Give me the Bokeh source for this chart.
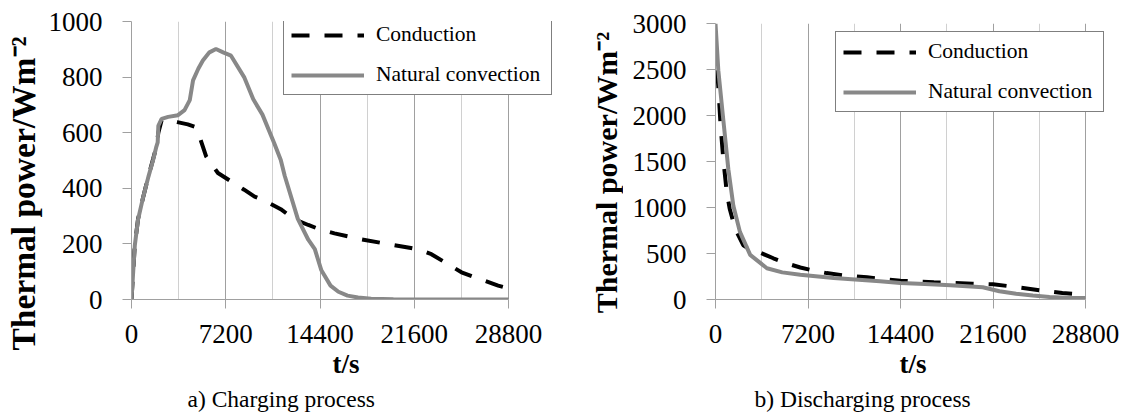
import math
from bokeh.plotting import figure
from bokeh.models import FixedTicker, Legend, LegendItem, Range1d, Title
from bokeh.core.properties import value
from bokeh.layouts import row
from bokeh.embed import file_html
from bokeh.resources import INLINE

FONT = "Liberation Serif"

# ---------------- data ----------------
x_ticks = [0, 7200, 14400, 21600, 28800]
x_minor = [3600, 10800, 18000, 25200]
x_tick_labels = ["0", "7200", "14400", "21600", "28800"]

charge_y_ticks = [0, 200, 400, 600, 800, 1000]
charge_y_labels = ["0", "200", "400", "600", "800", "1000"]
discharge_y_ticks = [0, 500, 1000, 1500, 2000, 2500, 3000]
discharge_y_labels = ["0", "500", "1000", "1500", "2000", "2500", "3000"]

series_names = ["Conduction", "Natural convection"]
captions = ["a) Charging process", "b) Discharging process"]
x_title = "t/s"
y_title = "Thermal power/Wm\u207b\u00b2"

# a) charging - conduction
charge_cond_t = [0, 250, 500, 900, 1300, 1650, 1900, 2050, 2300, 2800, 3500, 4300, 4800,
                 5200, 5700, 6600, 7600, 8600, 9400, 10200, 11400, 12450, 13500, 14400,
                 15500, 17500, 19500, 21000, 21900, 22900, 24000, 25200, 26500, 28000, 28800]
charge_cond_p = [0, 195, 290, 370, 445, 505, 550, 600, 645, 645, 638, 630, 622,
                 585, 515, 455, 425, 395, 370, 355, 325, 288, 268, 252,
                 238, 217, 200, 188, 180, 163, 132, 98, 75, 50, 40]

# a) charging - natural convection
charge_nat_t = [0, 250, 500, 900, 1300, 1650, 1900, 2000, 2050, 2300, 2800, 3550, 4050,
                4450, 4700, 5100, 5450, 5950, 6450, 7000, 7600, 8600, 9300, 10000, 10900,
                11400, 11700, 12700, 13500, 14000, 14500, 15200, 15800, 16500, 17300, 18300,
                20000, 24000, 28800]
charge_nat_p = [0, 193, 288, 370, 443, 502, 550, 565, 625, 650, 657, 663, 681,
                717, 788, 830, 860, 889, 901, 889, 877, 800, 720, 665, 562,
                502, 445, 290, 215, 181, 105, 50, 28, 14, 7, 3,
                1, 0, 0]

# b) discharging - conduction
dis_cond_t = [0, 90, 220, 400, 610, 870, 1100, 1390, 1700, 2160, 2700, 3460, 4500, 5500,
              6600, 7600, 8650, 10000, 11800, 14400, 17000, 20000, 21600, 22900, 24500,
              25800, 27000, 28800]
dis_cond_p = [2850, 2560, 2310, 1880, 1520, 1170, 990, 840, 720, 590, 545, 510, 448, 395,
              348, 315, 287, 262, 241, 204, 187, 172, 165, 144, 115,
              90, 70, 50]

# b) discharging - natural convection
dis_nat_t = [0, 220, 610, 1000, 1390, 1900, 2700, 4000, 5200, 6600, 9200, 12800, 14400,
             16300, 18300, 20800, 22100, 23400, 24700, 26000, 27300, 28800]
dis_nat_p = [3000, 2490, 1950, 1415, 1020, 735, 485, 340, 295, 268, 233, 198, 180,
             168, 155, 133, 90, 62, 43, 28, 18, 15]

AXIS_GRAY = "#a0a0a0"
MINOR_GRAY = "#d0d0d0"
LINE_GRAY = "#888888"
H = 414


def title_strip(width, cx, cy, size):
    """Narrow figure holding only the rotated y-axis title."""
    t = figure(width=width, height=H, x_range=Range1d(0, width), y_range=Range1d(0, H),
               output_backend="svg", toolbar_location=None, frame_align=False,
               min_border_left=0, min_border_right=0, min_border_top=0, min_border_bottom=0)
    t.axis.visible = False
    t.grid.visible = False
    t.outline_line_color = None
    t.background_fill_color = "white"
    t.border_fill_color = "white"
    t.text(x=[cx], y=[H - cy], text=[y_title], angle=math.pi / 2,
           text_font=value(FONT), text_font_size=value(size), text_font_style="bold",
           text_color="black", text_align="center", text_baseline="middle")
    return t


def make_panel(width, frame_left, frame_right_border, top, bottom, x_end, y_end,
               y_ticks, y_labels, cond_t, cond_p, nat_t, nat_p, caption, cap_offset,
               legend_loc):
    p = figure(width=width, height=H, x_range=Range1d(0, x_end), y_range=Range1d(0, y_end),
               output_backend="svg", toolbar_location=None, frame_align=False,
               min_border_left=frame_left, min_border_right=frame_right_border,
               min_border_top=top, min_border_bottom=bottom)
    p.outline_line_color = None
    p.background_fill_color = "white"
    p.border_fill_color = "white"

    xt = FixedTicker(ticks=x_ticks, minor_ticks=x_minor)
    p.xaxis.ticker = xt
    p.xgrid.ticker = xt
    p.xaxis.major_label_overrides = {t: l for t, l in zip(x_ticks, x_tick_labels)}
    p.xaxis.bounds = (0, 28800)
    yt = FixedTicker(ticks=y_ticks, minor_ticks=[])
    p.yaxis.ticker = yt
    p.yaxis.major_label_overrides = {t: l for t, l in zip(y_ticks, y_labels)}
    p.yaxis.bounds = (0, y_end)

    p.xgrid.grid_line_color = AXIS_GRAY
    p.xgrid.minor_grid_line_color = MINOR_GRAY
    p.ygrid.grid_line_color = None

    for ax in (p.xaxis[0], p.yaxis[0]):
        ax.axis_line_color = AXIS_GRAY
        ax.major_tick_line_color = AXIS_GRAY
        ax.major_tick_out = 9
        ax.major_tick_in = 0
        ax.minor_tick_out = 0
        ax.minor_tick_in = 0
        ax.major_label_text_font = FONT
        ax.major_label_text_font_size = "27px"
        ax.major_label_text_color = "black"
        ax.axis_label_text_font = FONT
        ax.axis_label_text_font_style = "bold"
        ax.axis_label_text_color = "black"

    p.xaxis.major_label_standoff = 16
    p.xaxis.axis_label = x_title
    p.xaxis.axis_label_text_font_size = "27px"
    p.xaxis.axis_label_standoff = 3

    p.yaxis.major_label_standoff = 20

    r1 = p.line(cond_t, cond_p, line_color="black", line_width=4, line_dash="18 15")
    r2 = p.line(nat_t, nat_p, line_color=LINE_GRAY, line_width=4)

    legend = Legend(items=[LegendItem(label=series_names[0], renderers=[r1]),
                           LegendItem(label=series_names[1], renderers=[r2])],
                    location=legend_loc, margin=0, padding=7, spacing=15,
                    glyph_width=73, glyph_height=20, label_standoff=12, label_width=168,
                    label_text_font=FONT, label_text_font_size="21.5px",
                    label_text_color="black",
                    border_line_color="black", border_line_width=1,
                    background_fill_color="white", background_fill_alpha=1.0)
    p.add_layout(legend)

    cap = Title(text=caption, align="left", offset=cap_offset, standoff=5, text_font=FONT,
                text_font_size="23.5px", text_font_style="normal", text_color="black")
    p.add_layout(cap, "below")
    return p


LEFT_STRIP = 45
RIGHT_STRIP = 60

t1 = title_strip(LEFT_STRIP, 22.5, 193, "33.5px")
p1 = make_panel(563 - LEFT_STRIP, 130 - LEFT_STRIP, 3, 21, 113, 430 * 28800 / 378, 1000,
                charge_y_ticks, charge_y_labels,
                charge_cond_t, charge_cond_p, charge_nat_t, charge_nat_p,
                captions[0], 56, (152, 204))
t2 = title_strip(RIGHT_STRIP, 43, 172, "30px")
p2 = make_panel(564 - RIGHT_STRIP, 152 - RIGHT_STRIP, 17, 23, 112, 395 * 28800 / 370, 3000,
                discharge_y_ticks, discharge_y_labels,
                dis_cond_t, dis_cond_p, dis_nat_t, dis_nat_p,
                captions[1], 39, (120, 187))

layout = row(t1, p1, t2, p2)
open("out.html", "w").write(file_html(layout, INLINE))
